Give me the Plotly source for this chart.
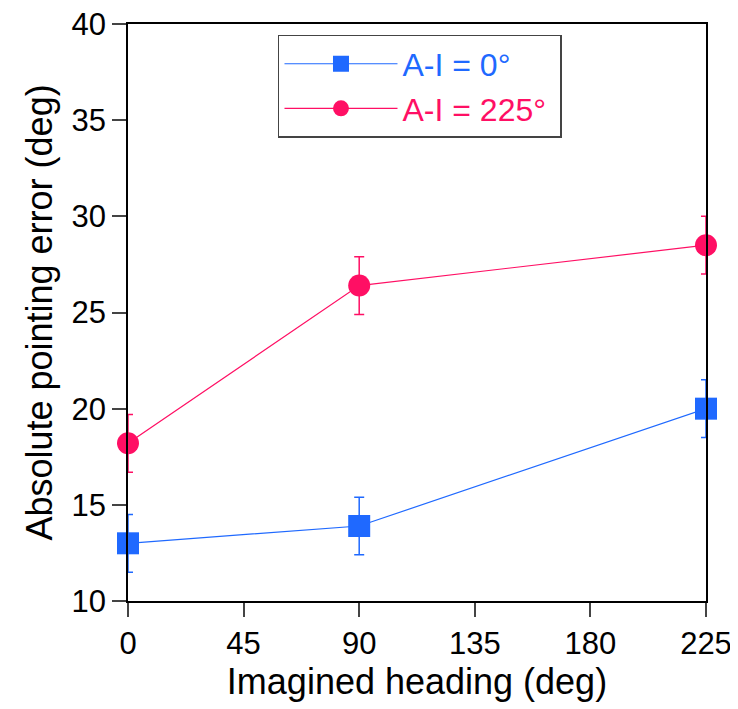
import plotly.graph_objects as go

headings = [0, 90, 225]
series_names = ["A-I = 0°", "A-I = 225°"]
err_0 = [13.0, 13.9, 20.0]
err_225 = [18.2, 26.4, 28.5]
sem_0 = [1.5, 1.5, 1.5]
sem_225 = [1.5, 1.5, 1.5]
x_ticks = [0, 45, 90, 135, 180, 225]
y_ticks = [10, 15, 20, 25, 30, 35, 40]

BLUE = "#1F69FF"
RED = "#FF0F64"
FONT = "Arial, Liberation Sans, Helvetica, sans-serif"

fig = go.Figure()
fig.add_trace(go.Scatter(
    x=headings, y=err_0,
    name=f"<span style='color:{BLUE}'>{series_names[0]}</span>",
    mode="lines+markers",
    line=dict(color=BLUE, width=1.2),
    marker=dict(symbol="square", size=22, color=BLUE),
    error_y=dict(type="data", array=sem_0, color=BLUE, thickness=1.5, width=5),
    cliponaxis=False,
))
fig.add_trace(go.Scatter(
    x=headings, y=err_225,
    name=f"<span style='color:{RED}'>{series_names[1]}</span> ",
    mode="lines+markers",
    line=dict(color=RED, width=1.2),
    marker=dict(symbol="circle", size=22, color=RED),
    error_y=dict(type="data", array=sem_225, color=RED, thickness=1.5, width=5),
    cliponaxis=False,
))

axis_common = dict(
    showline=True, linecolor="black", linewidth=1.5, mirror=True,
    ticks="outside", ticklen=14, tickwidth=1.5, tickcolor="#444",
    showgrid=False, zeroline=False, automargin=False,
    ticklabeloverflow="allow",
    tickfont=dict(family=FONT, size=31, color="black"),
)

fig.update_xaxes(
    range=[0, 225], tickvals=x_ticks, ticktext=[str(v) for v in x_ticks],
    title=dict(text="Imagined heading (deg)", font=dict(family=FONT, size=36, color="black"), standoff=8),
    **axis_common,
)
fig.update_yaxes(
    range=[10, 40], tickvals=y_ticks, ticktext=[str(v) for v in y_ticks],
    title=dict(text="Absolute pointing error (deg)", font=dict(family=FONT, size=36, color="black"), standoff=8),
    **axis_common,
)

fig.update_layout(
    width=738, height=709,
    margin=dict(l=120, r=40, t=16, b=116),
    plot_bgcolor="white", paper_bgcolor="white",
    legend=dict(
        x=0.2595, y=0.981, xanchor="left", yanchor="top",
        bordercolor="#444", borderwidth=1.5, bgcolor="white",
        font=dict(family=FONT, size=32),
        itemwidth=113, tracegroupgap=0,
    ),
    showlegend=True,
)
fig.write_html("out.html")
